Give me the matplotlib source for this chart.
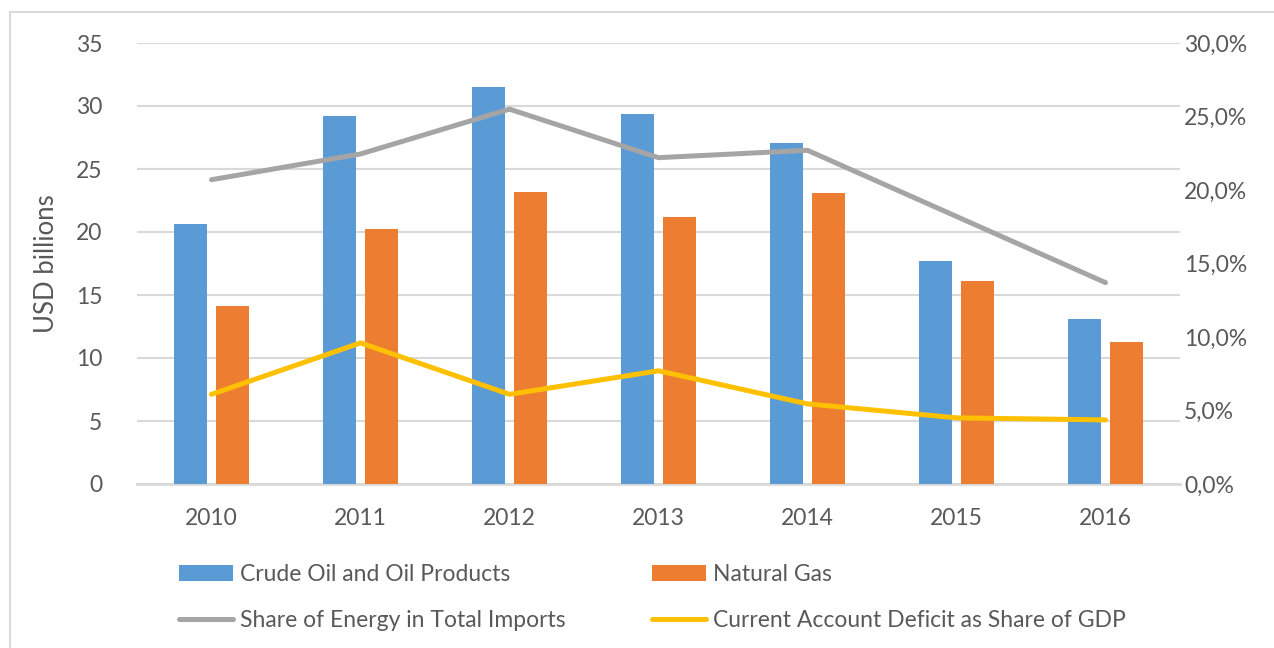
import matplotlib.pyplot as plt
import numpy as np
from matplotlib.patches import Rectangle
from matplotlib.ticker import FuncFormatter

plt.rcParams['font.family'] = ['Lato', 'DejaVu Sans']

years = ['2010', '2011', '2012', '2013', '2014', '2015', '2016']
crude_oil = [20.6, 29.2, 31.5, 29.4, 27.1, 17.7, 13.1]
natural_gas = [14.1, 20.2, 23.2, 21.2, 23.1, 16.1, 11.3]
energy_share = [0.207, 0.2245, 0.255, 0.222, 0.227, 0.182, 0.137]
deficit_share = [0.061, 0.096, 0.061, 0.077, 0.0545, 0.045, 0.0436]

text_col = '#595959'
grid_col = '#D9D9D9'

fig = plt.figure(figsize=(12.74, 6.48), dpi=100)
ax = fig.add_axes([137/1274, 1 - 484/648, (1180 - 137)/1274, (484 - 43)/648])
ax2 = ax.twinx()

x = np.arange(len(years))
w = 0.224
off = 0.142
ax.bar(x - off, crude_oil, w, color='#5B9BD5', label='Crude Oil and Oil Products', zorder=3)
ax.bar(x + off, natural_gas, w, color='#ED7D31', label='Natural Gas', zorder=3)

ax2.plot(x, energy_share, color='#A5A5A5', lw=3.6, solid_capstyle='round',
         label='Share of Energy in Total Imports')
ax2.plot(x, deficit_share, color='#FFC000', lw=3.6, solid_capstyle='round',
         label='Current Account Deficit as Share of GDP')

ax.set_xlim(-0.5, len(years) - 0.5)
ax.set_ylim(0, 35)
ax.set_yticks(np.arange(0, 36, 5))
ax2.set_ylim(0, 0.30)
ax2.set_yticks(np.arange(0, 0.301, 0.05))
ax2.yaxis.set_major_formatter(FuncFormatter(lambda v, p: f"{v*100:.1f}%".replace('.', ',')))

ax.set_xticks(x)
ax.set_xticklabels(years)
ax.grid(axis='y', color=grid_col, lw=1.5, zorder=0)
ax.set_axisbelow(True)

for a in (ax, ax2):
    for s in a.spines.values():
        s.set_visible(False)
    a.tick_params(length=0, labelsize=16.5, colors=text_col)
ax.spines['bottom'].set_visible(True)
ax.spines['bottom'].set_color(grid_col)
ax.spines['bottom'].set_linewidth(2)
ax.tick_params(axis='x', pad=17)
ax.tick_params(axis='y', pad=25)
ax2.tick_params(axis='y', pad=3)

ax.set_ylabel('USD billions', fontsize=18.5, color=text_col, labelpad=12)

h1, l1 = ax.get_legend_handles_labels()
h2, l2 = ax2.get_legend_handles_labels()
handles = [h1[0], h2[0], h1[1], h2[1]]
labels = [l1[0], l2[0], l1[1], l2[1]]
leg = fig.legend(handles, labels, ncol=2, loc='upper left',
                 bbox_to_anchor=(170/1274, 1 - 555/648), frameon=False,
                 fontsize=16.5, handlelength=2.36, handletextpad=0.28,
                 columnspacing=3.8, labelspacing=1.1, borderaxespad=0)
for t in leg.get_texts():
    t.set_color(text_col)

fig.add_artist(Rectangle((10/1274, -0.1), 1.2, 1.1 - 12/648, fill=False,
                         edgecolor=grid_col, lw=1.5, transform=fig.transFigure))

fig.savefig('out.png', dpi=100)
